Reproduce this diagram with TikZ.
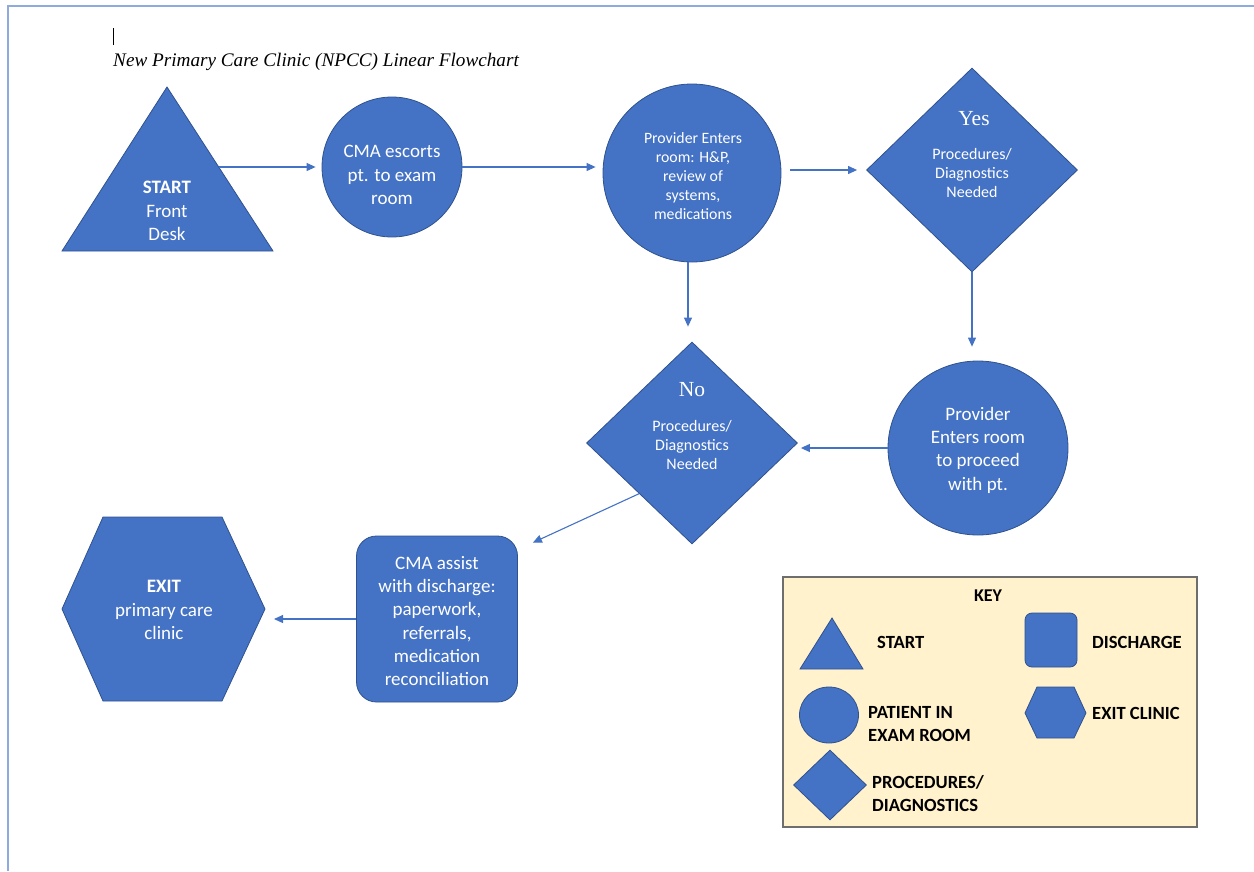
\documentclass[tikz,border=0pt]{standalone}
\usepackage{fontspec}
\setmainfont{Carlito}
\newfontfamily\tnr{Liberation Serif}
\usetikzlibrary{shapes.geometric,arrows.meta}
\definecolor{obl}{HTML}{4472C4}
\definecolor{obd}{HTML}{2F528F}
\definecolor{frm}{HTML}{8FAADC}
\definecolor{keyf}{HTML}{FFF2CC}
\definecolor{keyd}{HTML}{6E6E6E}
\begin{document}
\begin{tikzpicture}[x=1pt,y=-1pt,
  shp/.style={fill=obl,draw=obd,line width=0.8pt},
  circ/.style={shp,circle,inner sep=0pt},
  dia/.style={shp,diamond,inner sep=0pt},
  txt/.style={text=white,align=center,font=\fontsize{19}{23.3}\selectfont,inner sep=0pt},
  stxt/.style={text=white,align=center,font=\fontsize{15.8}{19.2}\selectfont,inner sep=0pt},
  dtxt/.style={text=white,align=center,font=\fontsize{16}{18.6}\selectfont,inner sep=0pt},
  yn/.style={text=white,inner sep=0pt,font=\tnr\fontsize{21.5}{24}\selectfont},
  arr/.style={draw=obl,line width=1.1pt,-{Triangle[length=9pt,width=8pt]}},
  ktxt/.style={font=\bfseries\fontsize{18.6}{23}\selectfont,anchor=west,align=left,inner sep=0pt}]
\useasboundingbox (0,0) rectangle (1254,871);
\draw[frm,line width=1.6pt] (8,871) -- (8,6) -- (1254,6);
\draw[line width=0.6pt] (113,28) -- (113,45);
\node[anchor=base west,inner sep=0pt,font=\tnr\itshape\fontsize{19.2}{22}\selectfont] (title) at (113,66) {New Primary Care Clinic (NPCC) Linear Flowchart};
% start triangle
\coordinate (tA) at (167,87);
\coordinate (tL) at (62,251);
\coordinate (tR) at (273,251);
\coordinate (tE) at (219,167);
\draw[shp] (tA) -- (tR) -- (tL) -- cycle;
\node[txt] (start) at (167,211) {\textbf{START}\\Front\\Desk};
% circle 1
\node[circ,minimum size=140pt] (c1) at (392,167) {};
\node[txt] (c1t) at (392,175) {CMA escorts\\pt. to exam\\room};
% circle 2
\node[circ,minimum size=178pt] (c2) at (692,173) {};
\node[stxt] (c2t) at (693,176) {Provider Enters\\room: H\&P,\\review of\\systems,\\medications};
% diamond yes
\node[dia,minimum width=211pt,minimum height=204pt] (d1) at (972,170) {};
\node[yn] (yes) at (974,119) {Yes};
\node[dtxt] (d1t) at (972,173) {Procedures/\\Diagnostics\\Needed};
% circle 3
\node[shp,ellipse,inner sep=0pt,minimum width=180pt,minimum height=174pt] (c3) at (978,448) {};
\node[txt] (c3t) at (978,450) {Provider\\Enters room\\to proceed\\with pt.};
% diamond no
\node[dia,minimum width=211pt,minimum height=202pt] (d2) at (692,443) {};
\node[yn] (no) at (692,390) {No};
\node[dtxt] (d2t) at (692,445) {Procedures/\\Diagnostics\\Needed};
% discharge rect
\node[shp,rounded corners=20pt,minimum width=161pt,minimum height=166pt,inner sep=0pt] (r1) at (437,619) {};
\node[txt] (r1t) at (437,621) {CMA assist\\with discharge:\\paperwork,\\referrals,\\medication\\reconciliation};
% exit hexagon
\coordinate (hL) at (62,609);
\coordinate (hTL) at (103,517);
\coordinate (hTR) at (222,517);
\coordinate (hR) at (265,609);
\coordinate (hBR) at (222,701);
\coordinate (hBL) at (103,701);
\draw[shp] (hL) -- (hTL) -- (hTR) -- (hR) -- (hBR) -- (hBL) -- cycle;
\node[txt] (exit) at (164,610) {\textbf{EXIT}\\primary care\\clinic};
% connectors
\draw[arr,shorten >=6pt] (tE) -- (tE -| c1.west);
\draw[arr,shorten >=7pt] (c1.east) -- (c1.east -| c2.west);
\draw[arr,shorten <=9pt,shorten >=9pt] (c2.east |- d1.west) -- (d1.west);
\draw[arr,shorten >=15pt] ([xshift=-4pt]c2.south) -- ([xshift=-4pt]c2.south |- d2.north);
\draw[arr,shorten >=14pt] (d1.south) -- (d1.south |- c3.north);
\draw[arr,shorten >=3pt] (c3.west) -- (c3.west -| d2.east);
\coordinate (r1tip) at ([shift={(15pt,-7pt)}]r1.north east);
\draw[arr] (d2.south west) -- (r1tip);
\draw[arr,shorten >=9pt] (r1.west) -- (r1.west -| hR);
% key
\node[draw=keyd,fill=keyf,line width=1.4pt,minimum width=414pt,minimum height=250pt,inner sep=0pt] (key) at (990,702) {};
\node[font=\bfseries\fontsize{18}{20}\selectfont,inner sep=0pt] (keyt) at (988,596) {KEY};
\draw[shp] (832,618) -- (863,669) -- (800,669) -- cycle;
\node[ktxt] (kstart) at (877,642) {START};
\node[shp,rounded corners=7pt,minimum width=52pt,minimum height=54pt,inner sep=0pt] (kdis) at (1051,640) {};
\node[ktxt] (kdist) at (1092,642) {DISCHARGE};
\node[shp,ellipse,inner sep=0pt,minimum width=59pt,minimum height=56pt] (kpat) at (829,715) {};
\node[ktxt] (kpatt) at (868,724) {PATIENT IN\\EXAM ROOM};
\draw[shp] (1025,713) -- (1037,687) -- (1074,687) -- (1086,713) -- (1074,738) -- (1037,738) -- cycle;
\node[ktxt] (kexit) at (1092,713) {EXIT CLINIC};
\node[dia,minimum width=73pt,minimum height=70pt] (kdia) at (830,785) {};
\node[ktxt] (kdiat) at (872,794) {PROCEDURES/\\DIAGNOSTICS};
\end{tikzpicture}
\end{document}
